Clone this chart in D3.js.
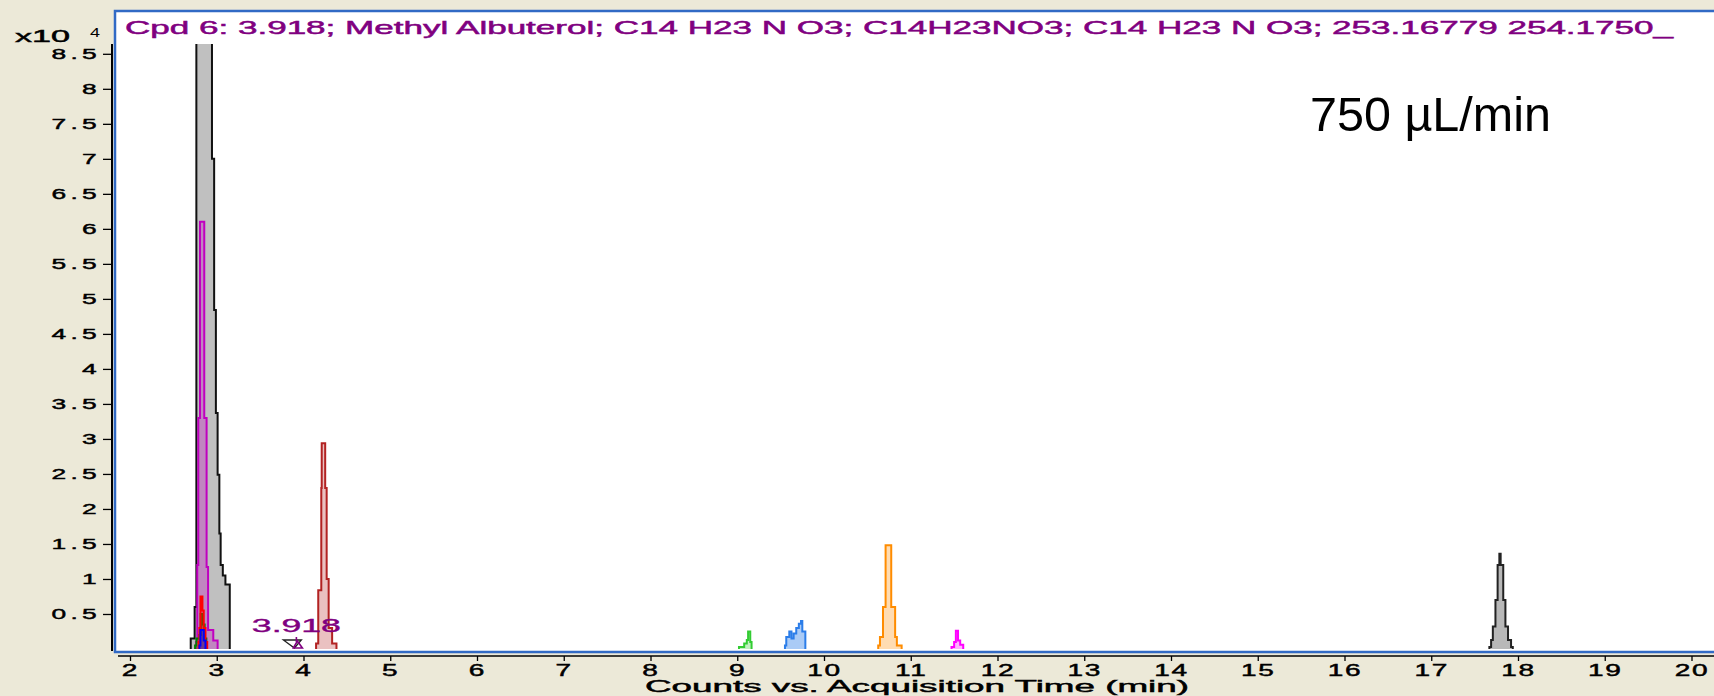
<!DOCTYPE html>
<html>
<head>
<meta charset="utf-8">
<script src="https://cdn.jsdelivr.net/npm/d3@7"></script>
<style>
  html, body { margin: 0; padding: 0; background: #ece9d8; }
  svg { display: block; }
  text { font-family: 'Liberation Sans', Arial, sans-serif; }
</style>
</head>
<body>
<div id="chart"></div>
<script>
// chromatogram data, counts in units of 10^4, time in min (step data)
let ticTimes = [2.70, 2.745, 2.765, 2.945, 2.97, 2.99, 3.01, 3.03, 3.045, 3.07, 3.10, 3.15]
let ticCounts = [0.15, 0.6, 9.5, 7.0, 4.84, 3.37, 2.49, 1.65, 1.2, 1.05, 0.92, 0]

let magentaTimes = [2.76, 2.775, 2.787, 2.807, 2.856, 2.883, 2.90, 2.96, 3.01]
let magentaCounts = [0.1, 1.2, 3.3, 6.1, 3.3, 1.17, 0.27, 0.12, 0]

let greenTimes = [2.75, 2.765, 2.80, 2.815, 2.84, 2.86, 2.88]
let greenCounts = [0.05, 0.15, 0.2, 0.5, 0.35, 0.15, 0]

let redTimes = [2.79, 2.80, 2.812, 2.835, 2.85, 2.87, 2.89]
let redCounts = [0.1, 0.3, 0.75, 0.55, 0.3, 0.1, 0]

let blueTimes = [2.80, 2.812, 2.85, 2.87]
let blueCounts = [0.05, 0.27, 0.12, 0]

let albuterolTimes = [4.145, 4.17, 4.205, 4.21, 4.25, 4.267, 4.29, 4.33, 4.38]
let albuterolCounts = [0.08, 0.84, 2.3, 2.94, 2.3, 1.0, 0.3, 0.08, 0]

let lime9Times = [9.02, 9.08, 9.11, 9.125, 9.15, 9.165]
let lime9Counts = [0.03, 0.08, 0.13, 0.25, 0.1, 0]

let blue97Times = [9.55, 9.565, 9.60, 9.625, 9.65, 9.68, 9.71, 9.735, 9.75, 9.785]
let blue97Counts = [0.05, 0.17, 0.25, 0.15, 0.22, 0.3, 0.36, 0.40, 0.25, 0]

let orangeTimes = [10.625, 10.645, 10.68, 10.71, 10.775, 10.82, 10.84, 10.895]
let orangeCounts = [0.05, 0.17, 0.6, 1.48, 0.6, 0.17, 0.05, 0]

let pinkTimes = [11.47, 11.50, 11.52, 11.545, 11.57, 11.605]
let pinkCounts = [0.03, 0.1, 0.26, 0.12, 0.06, 0]

let grayTimes = [17.67, 17.69, 17.71, 17.74, 17.765, 17.785, 17.80, 17.83, 17.855, 17.885, 17.92, 17.94]
let grayCounts = [0.03, 0.13, 0.32, 0.7, 1.2, 1.36, 1.2, 0.7, 0.32, 0.13, 0.03, 0]

let xTicks = d3.range(2, 21)
let yTicks = [0.5, 1, 1.5, 2, 2.5, 3, 3.5, 4, 4.5, 5, 5.5, 6, 6.5, 7, 7.5, 8, 8.5]

let markerTime = 3.918
let titleText = 'Cpd 6: 3.918; Methyl Albuterol; C14 H23 N O3; C14H23NO3; C14 H23 N O3; 253.16779 254.1750_'
let flowText = '750 µL/min'

// traces, drawn in this order
let traces = [
  { t: ticTimes, c: ticCounts, stroke: '#111', fill: '#c0c0c0', op: 1 },
  { t: magentaTimes, c: magentaCounts, stroke: '#c000c0', fill: '#c000c0', op: 0.3 },
  { t: greenTimes, c: greenCounts, stroke: '#008000', fill: '#008000', op: 0.35 },
  { t: redTimes, c: redCounts, stroke: '#ff0000', fill: '#ff0000', op: 0.35 },
  { t: blueTimes, c: blueCounts, stroke: '#0000ff', fill: '#0000ff', op: 0.35 },
  { t: albuterolTimes, c: albuterolCounts, stroke: '#b22222', fill: '#b22222', op: 0.28 },
  { t: lime9Times, c: lime9Counts, stroke: '#33cc33', fill: '#33cc33', op: 0.3 },
  { t: blue97Times, c: blue97Counts, stroke: '#2b7de9', fill: '#2b7de9', op: 0.4 },
  { t: orangeTimes, c: orangeCounts, stroke: '#ff8c00', fill: '#ff8c00', op: 0.3 },
  { t: pinkTimes, c: pinkCounts, stroke: '#ff00ff', fill: '#ff00ff', op: 0.3 },
  { t: grayTimes, c: grayCounts, stroke: '#222', fill: '#b8b8b8', op: 1 }
]

let width = 1714
let height = 696
let sx = 1.7 // the old screenshot is stretched sideways

let svg = d3
  .select('#chart')
  .append('svg')
  .attr('width', width)
  .attr('height', height)

let xPositionScale = d3.scaleLinear().domain([2, 20]).range([130, 1691.5])
let yPositionScale = d3.scaleLinear().domain([0, 8.64]).range([649, 44])

// background + plot frame
svg.append('rect').attr('width', width).attr('height', height).attr('fill', '#ece9d8')
svg
  .append('rect')
  .attr('x', 115)
  .attr('y', 11)
  .attr('width', width - 115 + 5)
  .attr('height', 641)
  .attr('fill', '#fff')
  .attr('stroke', '#316ac5')
  .attr('stroke-width', 2.5)

svg
  .append('clipPath')
  .attr('id', 'plot-clip')
  .append('rect')
  .attr('x', 117)
  .attr('y', 44)
  .attr('width', width - 117)
  .attr('height', 606)

let area = d3
  .area()
  .x(d => xPositionScale(d[0]))
  .y0(yPositionScale(0))
  .y1(d => yPositionScale(d[1]))
  .curve(d3.curveStepAfter)

let line = d3
  .line()
  .x(d => xPositionScale(d[0]))
  .y(d => yPositionScale(d[1]))
  .curve(d3.curveStepAfter)

let plot = svg.append('g').attr('clip-path', 'url(#plot-clip)')

traces.forEach(tr => {
  let pts = tr.t.map((t, i) => [t, tr.c[i]])
  // close the outline down to the baseline on both sides
  let outline = [[tr.t[0], 0]].concat(pts)
  plot
    .append('path')
    .datum(pts)
    .attr('d', area)
    .attr('fill', tr.fill)
    .attr('fill-opacity', tr.op)
  plot
    .append('path')
    .datum(outline)
    .attr('d', line)
    .attr('fill', 'none')
    .attr('stroke', tr.stroke)
    .attr('stroke-width', 2)
})

// retention time marker
let mx = xPositionScale(markerTime)
let base = yPositionScale(0)
svg
  .append('path')
  .attr('d', `M${mx - 13},${base - 9}L${mx + 5},${base - 9}L${mx - 2},${base - 1}Z`)
  .attr('fill', 'none')
  .attr('stroke', '#222')
  .attr('stroke-width', 1.3)
svg
  .append('path')
  .attr('d', `M${mx - 3},${base - 1}L${mx + 1},${base - 8}L${mx + 6},${base - 1}Z M${mx},${base - 12}V${base - 7}`)
  .attr('fill', 'none')
  .attr('stroke', '#800080')
  .attr('stroke-width', 1.6)
svg
  .append('text')
  .text(markerTime)
  .attr('x', mx)
  .attr('y', base - 17)
  .attr('font-size', 19)
  .attr('text-anchor', 'middle')
  .attr('textLength', 89)
  .attr('lengthAdjust', 'spacingAndGlyphs')
  .attr('fill', '#800080')
  .attr('stroke', '#800080')
  .attr('stroke-width', 0.4)

// y axis
let yAxis = d3
  .axisLeft(yPositionScale)
  .tickValues(yTicks)
  .tickSize(9)
  .tickFormat(d => d)
let yg = svg
  .append('g')
  .attr('class', 'axis y-axis')
  .attr('transform', 'translate(112,0)')
  .call(yAxis)
yg.select('.domain').remove()
yg.selectAll('.tick line').attr('stroke', '#000').attr('stroke-width', 1.3)
yg.selectAll('.tick text')
  .attr('x', -6.5)
  .attr('font-size', 15.5)
  .attr('letter-spacing', 2.5)
  .attr('fill', '#000')
  .attr('stroke', '#000')
  .attr('stroke-width', 0.45)
  .attr('transform', `scale(${sx},1)`)
  .style('font-family', "'Liberation Sans', Arial, sans-serif")
svg
  .append('line')
  .attr('x1', 112)
  .attr('x2', 112)
  .attr('y1', 44)
  .attr('y2', 651)
  .attr('stroke', '#000')
  .attr('stroke-width', 2)

// x axis
let xAxis = d3
  .axisBottom(xPositionScale)
  .tickValues(xTicks)
  .tickSize(5)
  .tickPadding(3)
  .tickFormat(d => d)
let xg = svg
  .append('g')
  .attr('class', 'axis x-axis')
  .attr('transform', 'translate(0,656)')
  .call(xAxis)
xg.select('.domain').remove()
xg.selectAll('.tick line').attr('stroke', '#000').attr('stroke-width', 1.3)
xg.selectAll('.tick text')
  .attr('font-size', 16.5)
  .attr('letter-spacing', 1)
  .attr('fill', '#000')
  .attr('stroke', '#000')
  .attr('stroke-width', 0.45)
  .attr('transform', `scale(${sx},1)`)
  .style('font-family', "'Liberation Sans', Arial, sans-serif")
svg
  .append('line')
  .attr('x1', 118)
  .attr('x2', width)
  .attr('y1', 656)
  .attr('y2', 656)
  .attr('stroke', '#000')
  .attr('stroke-width', 1.5)

// texts
svg
  .append('text')
  .text('Counts vs. Acquisition Time (min)')
  .attr('x', 917)
  .attr('y', 692)
  .attr('font-size', 16.5)
  .attr('text-anchor', 'middle')
  .attr('textLength', 544)
  .attr('lengthAdjust', 'spacingAndGlyphs')
  .attr('fill', '#000')
  .attr('stroke', '#000')
  .attr('stroke-width', 0.45)

svg
  .append('text')
  .text('x10')
  .attr('x', 15)
  .attr('y', 42)
  .attr('font-size', 16)
  .attr('textLength', 55)
  .attr('lengthAdjust', 'spacingAndGlyphs')
  .attr('fill', '#000')
  .attr('stroke', '#000')
  .attr('stroke-width', 0.45)
svg
  .append('text')
  .text('4')
  .attr('x', 90)
  .attr('y', 37)
  .attr('font-size', 12)
  .attr('textLength', 10)
  .attr('lengthAdjust', 'spacingAndGlyphs')
  .attr('fill', '#000')

svg
  .append('text')
  .text(titleText)
  .attr('x', 125)
  .attr('y', 34)
  .attr('font-size', 19)
  .attr('textLength', 1548)
  .attr('lengthAdjust', 'spacingAndGlyphs')
  .attr('fill', '#800080')
  .attr('stroke', '#800080')
  .attr('stroke-width', 0.5)

svg
  .append('text')
  .text(flowText)
  .attr('x', 1310)
  .attr('y', 131)
  .attr('font-size', 48.5)
  .attr('fill', '#000')
</script>
</body>
</html>
